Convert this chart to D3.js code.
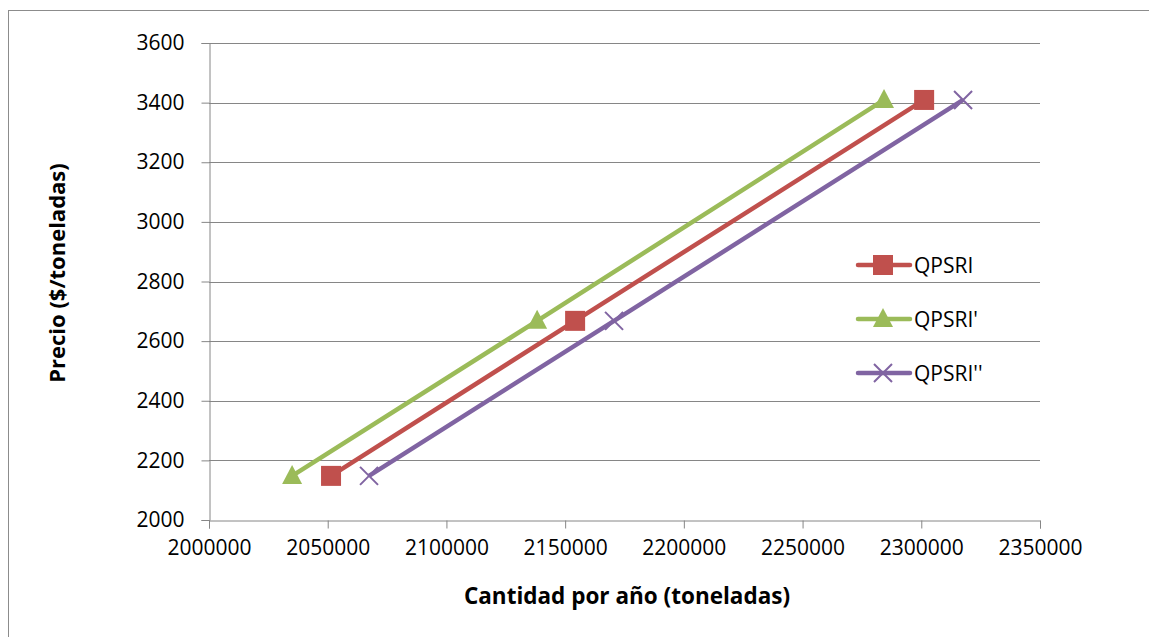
<!DOCTYPE html>
<html>
<head>
<meta charset="utf-8">
<script src="https://cdn.jsdelivr.net/npm/d3@7"></script>
<style>
  body { margin: 0; background: #fff; }
  svg text { font-family: "Open Sans", sans-serif; fill: #000; }
</style>
</head>
<body>
<div class="chart"></div>
<script>
// Data
const precios = [2148, 2668, 3409]
const qpsri = [2051400, 2154200, 2301200]
const qpsri1 = [2035000, 2138200, 2284300]
const qpsri2 = [2067400, 2170600, 2317600]
const seriesNames = ["QPSRI", "QPSRI'", "QPSRI''"]
const xTicks = [2000000, 2050000, 2100000, 2150000, 2200000, 2250000, 2300000, 2350000]
const yTicks = [2000, 2200, 2400, 2600, 2800, 3000, 3200, 3400, 3600]

const width = 1149
const height = 637
const colors = ["#C0504D", "#9BBB59", "#8064A2"]
const series = [qpsri, qpsri1, qpsri2].map((q, i) => ({
    name: seriesNames[i],
    color: colors[i],
    shape: i,
    points: q.map((x, j) => ({ x: x, y: precios[j] }))
}))

const svg = d3.select(".chart").append("svg")
    .attr("width", width)
    .attr("height", height)

// outer border (only top/left visible)
svg.append("rect")
    .attr("x", 8.5).attr("y", 10.5)
    .attr("width", 1200).attr("height", 700)
    .attr("fill", "none").attr("stroke", "#8c8c8c")

const x = d3.scaleLinear().domain([2000000, 2350000]).range([209, 1040])
const y = d3.scaleLinear().domain([2000, 3600]).range([520, 43])

// gridlines
svg.append("g")
    .selectAll("line")
    .data(yTicks.slice(1))
    .join("line")
    .attr("x1", x(2000000)).attr("x2", x(2350000))
    .attr("y1", d => Math.round(y(d)) + 0.5).attr("y2", d => Math.round(y(d)) + 0.5)
    .attr("stroke", "#868686")

// axes
svg.append("g")
    .attr("transform", `translate(0,${Math.round(y(2000)) + 0.5})`)
    .call(d3.axisBottom(x).tickValues(xTicks).tickFormat(d3.format("d")).tickSize(8).tickPadding(12))
svg.append("g")
    .attr("transform", `translate(${Math.round(x(2000000)) + 0.5},0)`)
    .call(d3.axisLeft(y).tickValues(yTicks).tickFormat(d3.format("d")).tickSize(8).tickPadding(17))
svg.selectAll(".domain, .tick line").attr("stroke", "#868686")
svg.selectAll(".tick text").attr("font-size", 21).attr("font-family", "Open Sans").attr("fill", "#000")

// lines
const lineGen = d3.line().x(d => x(d.x)).y(d => y(d.y))
svg.append("g")
    .selectAll("path")
    .data(series)
    .join("path")
    .attr("d", d => lineGen(d.points))
    .attr("fill", "none")
    .attr("stroke", d => d.color)
    .attr("stroke-width", 4.5)
    .attr("stroke-linejoin", "round")

// markers
function marker(g, shape, color) {
    if (shape === 0) {
        g.append("rect").attr("x", -10).attr("y", -10).attr("width", 20).attr("height", 20).attr("fill", color)
    } else if (shape === 1) {
        g.append("path").attr("d", "M0,-11L10,8L-10,8Z").attr("fill", color)
    } else {
        g.append("path").attr("d", "M-9,-9L9,9M-9,9L9,-9").attr("stroke", color).attr("stroke-width", 2)
    }
}
series.forEach(s => {
    s.points.forEach(p => {
        const g = svg.append("g").attr("transform", `translate(${x(p.x)},${y(p.y)})`)
        marker(g, s.shape, s.color)
    })
})

// legend
const legend = svg.append("g")
series.forEach((s, i) => {
    const ly = 265 + i * 54
    const g = legend.append("g").attr("transform", `translate(0,${ly})`)
    g.append("line").attr("x1", 858).attr("x2", 910).attr("y1", 0).attr("y2", 0)
        .attr("stroke", s.color).attr("stroke-width", 4.5).attr("stroke-linecap", "round")
    const m = g.append("g").attr("transform", "translate(883,0)")
    marker(m, s.shape, s.color)
    g.append("text").attr("x", 914).attr("y", 0).attr("dy", "0.36em")
        .attr("font-size", 21).text(s.name)
})

// axis titles
svg.append("text")
    .attr("x", 627).attr("y", 604)
    .attr("text-anchor", "middle")
    .attr("font-size", 22.5).attr("font-weight", "bold")
    .text("Cantidad por año (toneladas)")
svg.append("text")
    .attr("transform", "translate(65,273) rotate(-90)")
    .attr("text-anchor", "middle")
    .attr("font-size", 22).attr("font-weight", "bold")
    .text("Precio ($/toneladas)")
</script>
</body>
</html>
